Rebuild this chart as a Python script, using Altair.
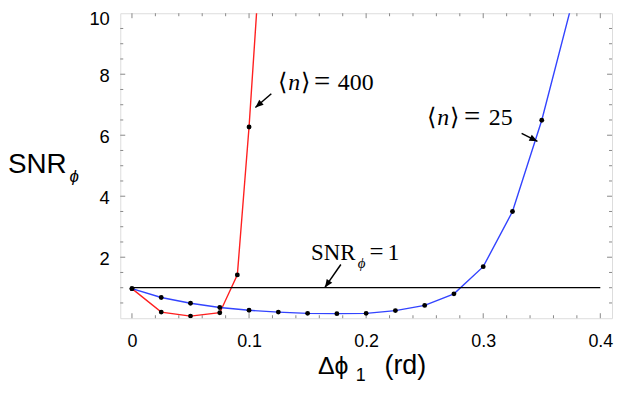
import math
import altair as alt
import pandas as pd

# ---------------- data ----------------
x400 = [0.0, 0.025, 0.05, 0.075, 0.09, 0.1, 0.11]
y400 = [0.97, 0.20, 0.07, 0.18, 1.42, 6.27, 12.1]

x25 = [0.0, 0.025, 0.05, 0.075, 0.1, 0.125, 0.15, 0.175, 0.2, 0.225, 0.25,
       0.275, 0.3, 0.325, 0.35, 0.375]
y25 = [0.97, 0.68, 0.49, 0.35, 0.26, 0.20, 0.16, 0.15, 0.16, 0.25, 0.42,
       0.80, 1.69, 3.50, 6.49, 10.2]

ref_x = [0.0, 0.4]
ref_y = [1.0, 1.0]

x_major = [0.0, 0.1, 0.2, 0.3, 0.4]
x_labels = ["0", "0.1", "0.2", "0.3", "0.4"]
x_minor = [0.02, 0.04, 0.06, 0.08, 0.12, 0.14, 0.16, 0.18, 0.22, 0.24, 0.26,
           0.28, 0.32, 0.34, 0.36, 0.38]
y_major = [2, 4, 6, 8]
y_labels = [2, 4, 6, 8, 10]
y_minor = [0.5, 1, 1.5, 2.5, 3, 3.5, 4.5, 5, 5.5, 6.5, 7, 7.5, 8.5, 9, 9.5]

# arrows: tail -> head (data coords)
arr_x1 = [0.1190, 0.3328, 0.1784]
arr_y1 = [7.36, 6.06, 1.76]
arr_x2 = [0.1054, 0.3463, 0.1648]
arr_y2 = [6.91, 5.80, 1.01]

W, H = 495, 307
XD = [-0.01, 0.41]
YD = [0, 10]
pxx = W / (XD[1] - XD[0])
pxy = H / (YD[1] - YD[0])

RED = "#ff2020"
BLUE = "#3344ff"
FRAME = "#888888"
SANS = "Liberation Sans"
SERIF = "Liberation Serif"

xs = alt.Scale(domain=XD, nice=False, zero=False)
ys = alt.Scale(domain=YD, nice=False, zero=False)

xaxis = alt.Axis(values=x_major, title=None, domain=False, ticks=False, grid=False,
                 labelExpr="datum.value == 0 ? '0' : format(datum.value, '.1f')",
                 labelFont=SANS, labelFontSize=18, labelColor="black", labelPadding=14)
yaxis = alt.Axis(values=y_labels, title=None, domain=False, ticks=False, grid=False,
                 labelFont=SANS, labelFontSize=18.5, labelColor="black", labelPadding=11,
                 labelOffset={"condition": {"test": "datum.value == 10", "value": 5},
                              "value": 1})


def X(f):
    return alt.X(f, type="quantitative", scale=xs, axis=xaxis)


def Y(f):
    return alt.Y(f, type="quantitative", scale=ys, axis=yaxis)


series = pd.DataFrame(
    {"x": x400 + x25, "y": y400 + y25,
     "s": ["n400"] * len(x400) + ["n25"] * len(x25)}
)
color = alt.Color("s:N", scale=alt.Scale(domain=["n400", "n25"], range=[RED, BLUE]),
                  legend=None)

lines = alt.Chart(series).mark_line(strokeWidth=1.4, clip=True).encode(
    x=X("x"), y=Y("y"), color=color, detail="s:N")
pts = alt.Chart(series).mark_circle(size=24, color="black", opacity=1, clip=True).encode(
    x=X("x"), y=Y("y"))

ref = alt.Chart(pd.DataFrame({"x": ref_x, "y": ref_y})).mark_line(
    color="black", strokeWidth=1.3).encode(x=X("x"), y=Y("y"))

# frame ticks (inward)
tick_layers = []
for vals, ln in ((x_major, 5), (x_minor, 3)):
    d = pd.DataFrame({"x": vals})
    tick_layers.append(alt.Chart(d).mark_rule(color=FRAME, strokeWidth=1).encode(
        x=X("x"), y=alt.value(H), y2=alt.value(H - ln)))
    tick_layers.append(alt.Chart(d).mark_rule(color=FRAME, strokeWidth=1).encode(
        x=X("x"), y=alt.value(0), y2=alt.value(ln)))
for vals, ln in ((y_major, 5), (y_minor, 3)):
    d = pd.DataFrame({"y": vals})
    tick_layers.append(alt.Chart(d).mark_rule(color=FRAME, strokeWidth=1).encode(
        y=Y("y"), x=alt.value(0), x2=alt.value(ln)))
    tick_layers.append(alt.Chart(d).mark_rule(color=FRAME, strokeWidth=1).encode(
        y=Y("y"), x=alt.value(W), x2=alt.value(W - ln)))

# arrows
ang = []
for a, b, c, d in zip(arr_x1, arr_y1, arr_x2, arr_y2):
    dx = (c - a) * pxx
    dy = -(d - b) * pxy
    ang.append((math.degrees(math.atan2(dx, -dy)) + 360) % 360)
arr = pd.DataFrame({"x1": arr_x1, "y1": arr_y1, "x2": arr_x2, "y2": arr_y2, "ang": ang})
arr_lines = alt.Chart(arr).mark_rule(color="black", strokeWidth=1.5).encode(
    x=X("x1"), y=Y("y1"), x2="x2", y2="y2")
arr_heads = alt.Chart(arr).mark_point(
    shape="M0,0L-0.42,1L0.42,1Z", filled=True, color="black", opacity=1, size=260,
    strokeWidth=0).encode(x=X("x2"), y=Y("y2"), angle=alt.Angle("ang:Q", scale=None))


def txt(x, y, s, size, dx=0, dy=0, italic=False, font=SERIF):
    d = pd.DataFrame({"x": [x], "y": [y], "t": [s]})
    kw = dict(font=font, fontSize=size, align="left", baseline="alphabetic",
              color="black", dx=dx, dy=dy)
    if italic:
        kw["fontStyle"] = "italic"
    return alt.Chart(d).mark_text(**kw).encode(x=X("x"), y=Y("y"), text="t:N")


ann = [
    txt(0.1249, 7.49, "⟨", 24, 0), txt(0.1249, 7.49, "n", 24, 10, italic=True),
    txt(0.1249, 7.49, "⟩", 24, 23), txt(0.1249, 7.49, "=", 29, 36, 1),
    txt(0.1249, 7.49, "400", 24, 60),
    txt(0.2522, 6.32, "⟨", 24, 0), txt(0.2522, 6.32, "n", 24, 10, italic=True),
    txt(0.2522, 6.32, "⟩", 24, 23), txt(0.2522, 6.32, "=", 29, 37, 1),
    txt(0.2522, 6.32, "25", 24, 62),
    txt(0.1529, 1.92, "SNR", 23, 0), txt(0.1529, 1.92, "ϕ", 15, 47, 8, italic=True),
    txt(0.1529, 1.92, "=", 25, 59), txt(0.1529, 1.92, "1", 24, 77),
]


def ptxt(x, y, s, size, italic=False, font=SANS):
    d = pd.DataFrame({"t": [s]})
    kw = dict(font=font, fontSize=size, align="left", baseline="alphabetic",
              color="black")
    if italic:
        kw["fontStyle"] = "italic"
    return alt.Chart(d).mark_text(**kw).encode(x=alt.value(x), y=alt.value(y), text="t:N")


titles = [
    ptxt(199, 363, "Δϕ", 25), ptxt(237, 370, "1", 18), ptxt(266, 363, "(rd)", 27),
    ptxt(-113, 161, "SNR", 28), ptxt(-51, 170, "ϕ", 17, italic=True),
]

chart = alt.layer(lines, *tick_layers, ref, pts, arr_lines, arr_heads, *ann, *titles).properties(
    width=W, height=H,
    padding={"left": 113, "top": 4, "right": 2, "bottom": 72},
    autosize=alt.AutoSizeParams(type="none"),
).configure_view(stroke=FRAME, strokeWidth=1.2).configure(background="white")

chart.save("out.html", embed_options={"renderer": "svg", "actions": False})
